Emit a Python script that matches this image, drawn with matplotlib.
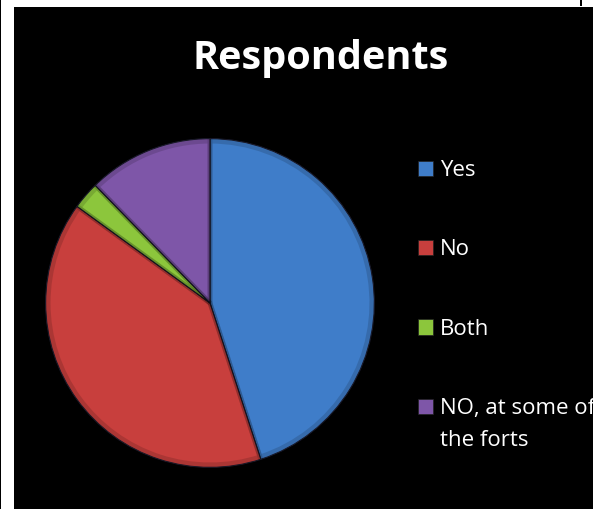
import matplotlib
matplotlib.use("Agg")
import matplotlib.pyplot as plt
from matplotlib.patches import Rectangle, Patch

categories = ["Yes", "No", "Both", "NO, at some of"]
label_continuation = "the forts"
values = [45.0, 40.0, 2.7, 12.3]
colors = ["#3f7dc9", "#c83f3d", "#8cc63c", "#7e56a8"]
title = "Respondents"

W, H = 593, 509
fig = plt.figure(figsize=(W / 100, H / 100), dpi=100)
fig.patch.set_facecolor("white")

# black chart area and thin left rule
fig.add_artist(Rectangle((14 / W, 0), (W - 14) / W, (H - 7) / H,
                         transform=fig.transFigure, facecolor="black",
                         edgecolor="none", zorder=0))
fig.add_artist(Rectangle((0, 0), 1.2 / W, 1, transform=fig.transFigure,
                         facecolor="black", edgecolor="none", zorder=0))
fig.add_artist(Rectangle((580 / W, (H - 6) / H), 2 / W, 6 / H,
                         transform=fig.transFigure, facecolor="black",
                         edgecolor="none", zorder=0))

ax = fig.add_axes([44 / W, 40 / H, 332 / W, 332 / H])
ax.set_facecolor("none")
wedges, _ = ax.pie(values, colors=colors, startangle=90, counterclock=False,
                   wedgeprops=dict(edgecolor="#1a1a2a", linewidth=0.8))
# subtle darker rim for a bevel-like look
ax.pie(values, colors=["none"] * len(values), startangle=90, counterclock=False,
       radius=0.985, wedgeprops=dict(edgecolor=(0, 0, 0, 0.14), linewidth=3.5,
                                     fill=False))
ax.set_xlim(-1.01, 1.01)
ax.set_ylim(-1.01, 1.01)
ax.set_aspect("equal")
ax.axis("off")

fig.text(321 / W, 1 - 59 / H, title, ha="center", va="center",
         fontsize=28.5, fontweight="bold", color="white", family="Open Sans")

handles = [Patch(facecolor=c, edgecolor="#222222", linewidth=0.5) for c in colors]
leg = fig.legend(handles, categories, loc="upper left",
                 bbox_to_anchor=(418 / W, 1 - 160 / H),
                 frameon=False, prop=dict(family="Open Sans", size=16),
                 labelcolor="white", handlelength=0.68, handleheight=0.68,
                 handletextpad=0.32, labelspacing=2.63, borderaxespad=0,
                 borderpad=0)

fig.text(440 / W, 1 - 440 / H, label_continuation, ha="left", va="center",
         fontsize=16, color="white", family="Open Sans")

fig.savefig("out.png", dpi=100, facecolor=fig.get_facecolor())
